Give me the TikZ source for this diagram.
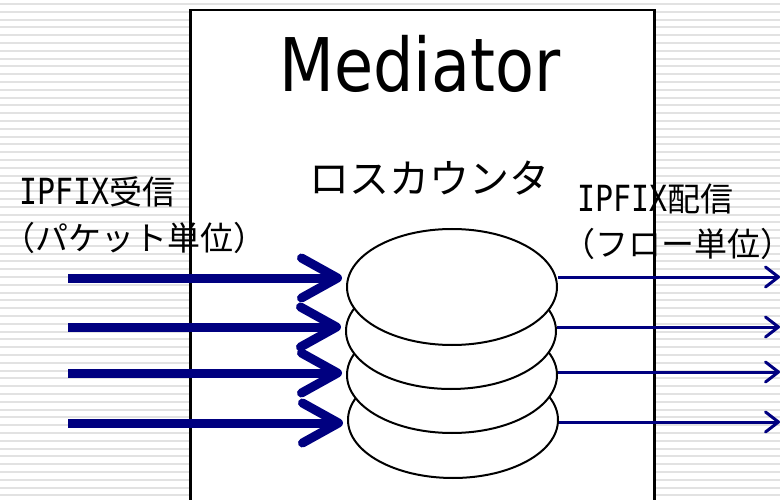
\documentclass[tikz,border=0pt]{standalone}
\usepackage{fontspec}
\newfontfamily\jp{Noto Sans CJK JP}
\newfontfamily\jph[RawFeature=+halt]{Noto Sans CJK JP}
\newfontfamily\lat[FakeStretch=0.83]{DejaVu Sans Mono}
\newfontfamily\medfont[FakeStretch=0.86]{DejaVu Sans}
\usetikzlibrary{arrows.meta,shapes.geometric}
\definecolor{navy}{HTML}{000080}
\definecolor{stripe}{HTML}{E2E2E2}
\tikzset{
  disk/.style={ellipse, draw=black, line width=2pt, fill=white, minimum width=210pt, minimum height=116pt, inner sep=0pt},
  thickarrow/.style={navy, line width=9pt, -{Straight Barb[length=36pt,width=40pt,round]}},
  thinarrow/.style={navy, line width=3pt, -{Straight Barb[length=13pt,width=20pt,round]}},
  label/.style={font=\jp\fontsize{33}{38}\selectfont, inner sep=0pt, anchor=west},
}
\begin{document}
\begin{tikzpicture}[x=1pt,y=-1pt]
\useasboundingbox (0,0) rectangle (780,500);
\clip (0,0) rectangle (780,500);
\foreach \k in {0,...,63} \draw[stripe, line width=2pt] (0,{4+7.8*\k}) -- (780,{4+7.8*\k});
\node[draw=black, line width=2.5pt, fill=white, minimum width=464pt, minimum height=520pt, anchor=north west, inner sep=0pt] (box) at (189,9) {};
\node[font=\medfont\fontsize{74}{80}\selectfont, anchor=base, inner sep=0pt] (title) at (420,92) {Mediator};
\node[font=\jp\fontsize{40}{44}\selectfont, inner sep=0pt] (lc) at (429,178) {ロスカウンタ};
\node[disk] (d4) at (453,420) {};
\node[disk] (d3) at (452,375) {};
\node[disk] (d2) at (451,331) {};
\node[disk] (d1) at (452,287) {};
\coordinate (a1) at (68,278);
\coordinate (a2) at (68,327);
\coordinate (a3) at (68,373);
\coordinate (a4) at (68,423);
\coordinate (b1) at (780,277);
\coordinate (b2) at (780,327);
\coordinate (b3) at (780,372);
\coordinate (b4) at (780,422);
\foreach \i/\d in {1/d1,2/d2,3/d3,4/d4}{
  \draw[thickarrow, shorten >=4pt] (a\i) -- (a\i -| \d.west);
  \draw[thinarrow] (b\i -| \d.east) -- (b\i);
}
\node[label] (lin1) at (19,192) {{\lat\fontsize{36}{38}\selectfont IPFIX}受信};
\node[label] (lin2) at (19,238) {{\jph（}パケット単位{\jph）}};
\node[label] (rin1) at (577,199) {{\lat\fontsize{36}{38}\selectfont IPFIX}配信};
\node[label] (rin2) at (579,244) {{\jph（}フロー単位{\jph）}};
\end{tikzpicture}
\end{document}
